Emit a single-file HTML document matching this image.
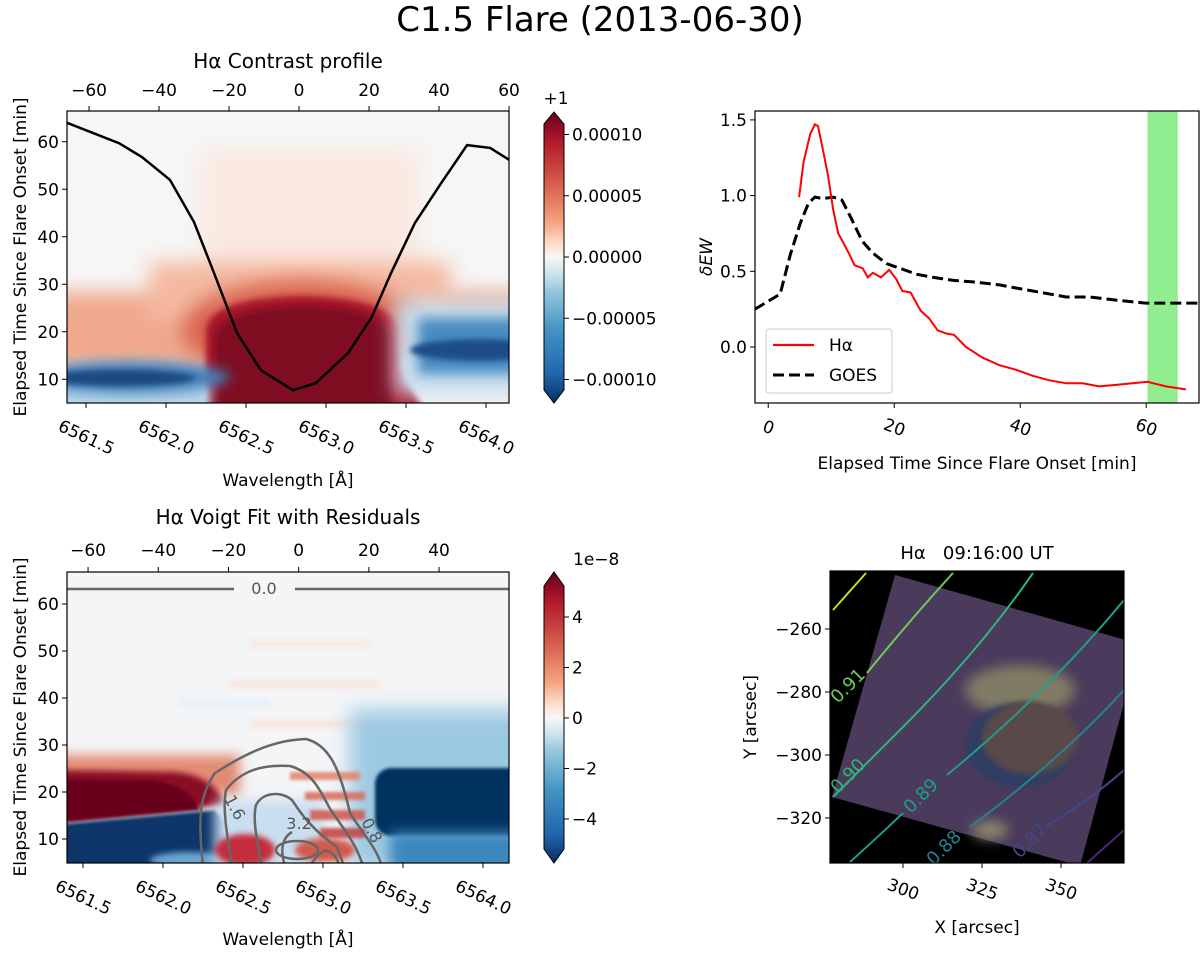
<!DOCTYPE html>
<html><head><meta charset="utf-8"><style>
body{margin:0;background:#fff;}
svg{display:block;font-family:"DejaVu Sans","Liberation Sans",sans-serif;}
</style></head><body>
<svg id="fig" width="1200" height="953" viewBox="0 0 1200 953">
<defs>
<filter id="b3" filterUnits="userSpaceOnUse" x="0" y="0" width="1200" height="953"><feGaussianBlur stdDeviation="3"/></filter>
<filter id="b6" filterUnits="userSpaceOnUse" x="0" y="0" width="1200" height="953"><feGaussianBlur stdDeviation="6"/></filter>
<filter id="b10" filterUnits="userSpaceOnUse" x="0" y="0" width="1200" height="953"><feGaussianBlur stdDeviation="10"/></filter>
<filter id="b2" filterUnits="userSpaceOnUse" x="0" y="0" width="1200" height="953"><feGaussianBlur stdDeviation="1.5"/></filter>
<clipPath id="c1"><rect x="67" y="111" width="442" height="292"/></clipPath>
<clipPath id="c2"><rect x="67" y="572" width="442" height="291"/></clipPath>
<clipPath id="c3"><rect x="755" y="111" width="444" height="292"/></clipPath>
<clipPath id="c4"><rect x="830" y="571" width="294" height="292"/></clipPath>
<linearGradient id="rdbu" x1="0" y1="0" x2="0" y2="1">
<stop offset="0" stop-color="#67001f"/><stop offset="0.1" stop-color="#b2182b"/><stop offset="0.25" stop-color="#d6604d"/><stop offset="0.38" stop-color="#f4a582"/><stop offset="0.45" stop-color="#fddbc7"/><stop offset="0.5" stop-color="#f7f7f7"/><stop offset="0.55" stop-color="#d1e5f0"/><stop offset="0.62" stop-color="#92c5de"/><stop offset="0.75" stop-color="#4393c3"/><stop offset="0.9" stop-color="#2166ac"/><stop offset="1" stop-color="#053061"/>
</linearGradient>
</defs>

<text x="600" y="31" font-size="34" text-anchor="middle">C1.5 Flare (2013-06-30)</text>

<!-- ============ TOP LEFT HEATMAP ============ -->
<g clip-path="url(#c1)">
<rect x="67" y="111" width="442" height="292" fill="#f6f6f6"/>
<rect x="200" y="150" width="220" height="140" fill="#fbe6dc" filter="url(#b10)" opacity="0.8"/>
<rect x="40" y="292" width="500" height="76" fill="#f0a88e" filter="url(#b10)"/>
<rect x="150" y="262" width="300" height="60" fill="#f4b9a0" filter="url(#b10)"/>
<ellipse cx="302" cy="330" rx="120" ry="50" fill="#d8644f" filter="url(#b10)"/>
<path d="M206,410 L206,330 Q210,298 302,296 Q394,298 398,330 L400,365 Q410,390 425,410 Z" fill="#a8172b" filter="url(#b3)"/>
<path d="M215,410 L215,335 Q225,308 302,306 Q385,308 390,335 L392,410 Z" fill="#7e0823" filter="url(#b3)"/>
<rect x="40" y="380" width="170" height="30" fill="#b3d3e8" filter="url(#b6)"/>
<ellipse cx="130" cy="377" rx="100" ry="16" fill="#3f7fb9" filter="url(#b6)"/>
<ellipse cx="120" cy="378" rx="75" ry="8" fill="#1d4a80" filter="url(#b3)"/>
<rect x="395" y="300" width="140" height="95" fill="#c7deee" filter="url(#b10)"/>
<rect x="418" y="318" width="110" height="56" fill="#4a8cc2" filter="url(#b6)"/>
<ellipse cx="480" cy="350" rx="70" ry="11" fill="#1e4d87" filter="url(#b3)"/>
<path id="profile" fill="none" stroke="#000" stroke-width="2.5"/>
</g>
<rect x="67" y="111" width="442" height="292" fill="none" stroke="#000" stroke-width="1.2"/>
<text x="288" y="68" font-size="20" text-anchor="middle">Hα Contrast profile</text>
<g id="tl-axes" font-size="17"></g>
<text transform="translate(26,257) rotate(-90)" font-size="17" text-anchor="middle">Elapsed Time Since Flare Onset [min]</text>
<text x="288" y="486" font-size="17" text-anchor="middle">Wavelength [Å]</text>
<g>
<path d="M544,124 L554,112 L564,124 L564,390 L554,403 L544,390 Z" fill="url(#rdbu)" stroke="#000" stroke-width="1"/>
<text x="556" y="104" font-size="17" text-anchor="middle">+1</text>
<g id="cb1" font-size="17"></g>
</g>

<!-- ============ BOTTOM LEFT HEATMAP ============ -->
<g clip-path="url(#c2)">
<rect x="67" y="572" width="442" height="291" fill="#f3f5f7"/>
<g opacity="0.6" filter="url(#b3)">
<rect x="250" y="640" width="120" height="8" fill="#fbe0d3"/>
<rect x="230" y="680" width="150" height="8" fill="#fbdccd"/>
<rect x="250" y="720" width="120" height="8" fill="#fbd9c9"/>
<rect x="180" y="700" width="90" height="6" fill="#dbe9f3"/>
</g>
<rect x="350" y="710" width="190" height="160" fill="#9cc9e2" filter="url(#b10)"/>
<rect x="40" y="755" width="200" height="40" fill="#e48a72" filter="url(#b6)"/>
<path d="M40,770 L175,772 Q215,776 225,805 L40,825 Z" fill="#8a0a25" filter="url(#b3)"/>
<path d="M40,780 L150,780 Q190,785 200,810 L40,824 Z" fill="#67001f" filter="url(#b2)"/>
<path d="M40,826 L215,810 Q235,830 220,850 L200,880 L40,880 Z" fill="#08356a" filter="url(#b2)"/>
<ellipse cx="190" cy="860" rx="40" ry="8" fill="#6aa4cf" filter="url(#b3)"/>
<rect x="215" y="800" width="110" height="70" fill="#c9def0" filter="url(#b6)"/>
<ellipse cx="245" cy="850" rx="30" ry="16" fill="#c42d3c" filter="url(#b3)"/>
<ellipse cx="325" cy="850" rx="30" ry="12" fill="#d45a4c" filter="url(#b3)"/>
<g filter="url(#b2)" opacity="0.85">
<rect x="290" y="772" width="70" height="8" fill="#e3826b"/>
<rect x="305" y="792" width="60" height="8" fill="#d86a57"/>
<rect x="310" y="810" width="55" height="10" fill="#d0554b"/>
<rect x="320" y="828" width="45" height="10" fill="#c53c3f"/>
</g>
<rect x="375" y="768" width="160" height="68" rx="16" fill="#053061" filter="url(#b2)"/>
<rect x="390" y="832" width="140" height="40" fill="#3e87bf" filter="url(#b6)"/>
<g fill="none" stroke="#666" stroke-width="2.5">
<path d="M67,589 L234,589 M295,589 L509,589"/>
<path d="M203,866 C198,820 199,795 215,773 C240,757 270,740 306,739 C330,745 340,770 350,813 C360,830 375,845 382,866"/>
<path d="M232,866 C228,840 222,810 226,790 C240,772 260,764 290,766 C312,772 320,790 329,807 C340,825 355,840 363,866"/>
<path d="M262,866 C258,845 252,820 256,805 C262,793 280,790 292,800 C300,812 310,828 337,847 L344,866"/>
<path d="M285,866 C280,850 282,838 292,832 M310,866 C320,850 330,842 340,866"/>
<ellipse cx="297" cy="850" rx="21" ry="9"/>
</g>
<g font-size="16" fill="#555">
<text x="264" y="594" text-anchor="middle">0.0</text>
<text transform="translate(230,810) rotate(62)" text-anchor="middle">1.6</text>
<text x="299" y="829" text-anchor="middle">3.2</text>
<text transform="translate(367,833) rotate(62)" text-anchor="middle">0.8</text>
</g>
</g>
<rect x="67" y="572" width="442" height="291" fill="none" stroke="#000" stroke-width="1.2"/>
<text x="288" y="524" font-size="20" text-anchor="middle">Hα Voigt Fit with Residuals</text>
<g id="bl-axes" font-size="17"></g>
<text transform="translate(26,717) rotate(-90)" font-size="17" text-anchor="middle">Elapsed Time Since Flare Onset [min]</text>
<text x="288" y="945" font-size="17" text-anchor="middle">Wavelength [Å]</text>
<g>
<path d="M544,586 L554,572 L564,586 L564,849 L554,863 L544,849 Z" fill="url(#rdbu)" stroke="#000" stroke-width="1"/>
<text x="573" y="565" font-size="17">1e−8</text>
<g id="cb2" font-size="17"></g>
</g>

<!-- ============ TOP RIGHT LINE CHART ============ -->
<g id="tr" clip-path="url(#c3)"></g>
<rect x="755" y="111" width="444" height="292" fill="none" stroke="#000" stroke-width="1.2"/>
<g id="tr-axes" font-size="17"></g>
<text transform="translate(712,257) rotate(-90)" font-size="17" font-style="italic" text-anchor="middle">δEW</text>
<text x="977" y="469" font-size="17" text-anchor="middle">Elapsed Time Since Flare Onset [min]</text>
<g>
<rect x="766" y="329" width="126" height="64" rx="3" fill="#fff" fill-opacity="0.8" stroke="#ccc"/>
<line x1="773" y1="345" x2="814" y2="345" stroke="#f00" stroke-width="2.2"/>
<text x="829" y="351" font-size="17">Hα</text>
<line x1="773" y1="375" x2="814" y2="375" stroke="#000" stroke-width="3" stroke-dasharray="11,5"/>
<text x="829" y="381" font-size="17">GOES</text>
</g>

<!-- ============ BOTTOM RIGHT MAP ============ -->
<g clip-path="url(#c4)">
<rect x="830" y="571" width="294" height="292" fill="#000"/>
<path d="M895,575 L1140,644 L1080,866 L832,797 Z" fill="#4a3a5c"/>
<ellipse cx="1020" cy="690" rx="55" ry="25" fill="#8e8c66" filter="url(#b6)" opacity="0.8"/>
<ellipse cx="1020" cy="745" rx="55" ry="42" fill="#2f3e62" filter="url(#b3)"/>
<ellipse cx="1030" cy="738" rx="48" ry="36" fill="#5a4848" filter="url(#b3)"/>
<ellipse cx="990" cy="830" rx="18" ry="9" fill="#8d8a6a" filter="url(#b6)"/>
<g fill="none" stroke-width="2">
<path d="M833,610 L866,573" stroke="#c2df23"/>
<path d="M867,673 Q910,620 953,573" stroke="#6ccd5a"/>
<path d="M833,797 Q870,760 900,730 Q980,650 1033,573" stroke="#2fb47c"/>
<path d="M850,862 Q880,835 903,813 M947,775 Q1050,690 1124,600" stroke="#1f9e89"/>
<path d="M970,827 Q1060,760 1124,690" stroke="#26828e"/>
<path d="M1045,827 Q1090,800 1124,770" stroke="#3e4989"/>
<path d="M1087,863 L1124,830" stroke="#482878"/>
</g>
<g font-size="18">
<text transform="translate(852,690) rotate(-45)" fill="#6ccd5a" text-anchor="middle">0.91</text>
<text transform="translate(852,780) rotate(-45)" fill="#2fb47c" text-anchor="middle">0.90</text>
<text transform="translate(925,800) rotate(-45)" fill="#1f9e89" text-anchor="middle">0.89</text>
<text transform="translate(948,852) rotate(-45)" fill="#26828e" text-anchor="middle">0.88</text>
<text transform="translate(1034,845) rotate(-45)" fill="#3e4989" text-anchor="middle">0.87</text>
</g>
</g>
<rect x="830" y="571" width="294" height="292" fill="none" stroke="#000" stroke-width="1.2"/>
<text x="977" y="559" font-size="18" text-anchor="middle" xml:space="preserve">Hα   09:16:00 UT</text>
<g id="br-axes" font-size="17"></g>
<text transform="translate(756,717) rotate(-90)" font-size="17" text-anchor="middle">Y [arcsec]</text>
<text x="977" y="933" font-size="17" text-anchor="middle">X [arcsec]</text>
</svg>
<script>
// ---- data ----
const profileOffset = [-66.3,-51.4,-44.9,-36.9,-30.0,-24.3,-17.7,-10.9,-1.7,4.8,14.0,20.8,26.3,33.1,40.6,48.0,54.6,60.0];
const profileValue = [64.0,59.7,56.8,52.0,43.1,32.4,19.7,11.9,7.7,9.2,15.5,23.1,32.4,42.9,51.3,59.3,58.7,56.2];
const haTime = [4.9,5.6,6.7,7.4,7.9,8.7,9.5,10.3,11.1,11.9,12.9,13.7,15.0,15.8,16.6,17.9,19.2,20.3,21.3,22.6,24.2,25.5,26.9,28.2,29.5,31.4,34.0,36.7,39.3,42.0,44.6,47.3,49.9,52.5,55.2,57.8,60.2,63.1,66.3];
const haValue = [0.99,1.22,1.41,1.47,1.46,1.30,1.13,0.91,0.75,0.69,0.61,0.54,0.52,0.46,0.49,0.46,0.51,0.45,0.37,0.36,0.24,0.19,0.11,0.09,0.08,0.00,-0.07,-0.12,-0.15,-0.19,-0.22,-0.24,-0.24,-0.26,-0.25,-0.24,-0.23,-0.26,-0.28];
const goesTime = [-2.1,-0.5,1.9,3.5,5.1,6.4,7.4,8.7,10.3,11.7,13.3,14.9,16.6,18.8,20.9,23.6,26.2,29.4,32.5,36.7,39.3,42.0,47.3,51.0,55.2,59.9,64.1,68.2];
const goesValue = [0.25,0.29,0.35,0.61,0.82,0.95,0.99,0.98,0.99,0.97,0.84,0.70,0.62,0.55,0.52,0.48,0.46,0.44,0.43,0.41,0.39,0.37,0.33,0.33,0.31,0.29,0.29,0.29];
const spanRange = [60.2, 65.0];
const wlTicks = ["6561.5","6562.0","6562.5","6563.0","6563.5","6564.0"];
const offTicksTop = [-60,-40,-20,0,20,40,60];
const offTicksBottom = [-60,-40,-20,0,20,40];
const timeTicks = [10,20,30,40,50,60];
const cb1Ticks = ["0.00010","0.00005","0.00000","−0.00005","−0.00010"];
const cb1Vals = [0.0001,0.00005,0,-0.00005,-0.0001];
const cb2Vals = [4,2,0,-2,-4];
const dewXTicks = [0,20,40,60];
const dewYTicks = [0.0,0.5,1.0,1.5];
const mapXTicks = [300,325,350];
const mapYTicks = [-260,-280,-300,-320];

// ---- axis functions ----
const tlU = u => 67 + (u + 66.3) * 3.5;
const tlT = t => 403 - (t - 5) * 4.75;
const tlW = w => 86 + (w - 6561.5) * 160;
const blU = u => 67 + (u + 66.0) * 3.51;
const blT = t => 839 - (t - 10) * 4.7;
const blW = w => 83 + (w - 6561.5) * 160;
const cb1 = v => 257 - v * 1225000;
const cb2 = v => 718 - v * 25.25;
const dx = t => 755 + (t + 2.1) * 6.3;
const dy = v => 347 - v * 151.4;
const mx = x => 903 + (x - 300) * 3.16;
const my = y => 629 - (y + 260) * 3.15;

const NS = 'http://www.w3.org/2000/svg';
function mk(tag, parent, attrs) {
  const e = document.createElementNS(NS, tag);
  for (const k in attrs) e.setAttribute(k, attrs[k]);
  parent.appendChild(e); return e;
}
function tickX(g, x, y0, dir, label, ly, rot, name) {
  const l = mk('line', g, {x1:x, x2:x, y1:y0, y2:y0 + dir*5, stroke:'#000', 'stroke-width':1});
  
  
  const t = mk('text', g, {'text-anchor':'middle'});
  
  
  if (rot) { t.setAttribute('transform', 'translate(' + x + ',' + ly + ') rotate(' + rot + ')'); t.setAttribute('dominant-baseline','central'); }
  else { t.setAttribute('x', x); t.setAttribute('y', ly); }
  t.textContent = label;
}
function tickY(g, x0, y, label, lx, name, anchor) {
  const dir = anchor === 'start' ? 1 : -1;
  const l = mk('line', g, {x1:x0, x2:x0 + dir*5, y1:y, y2:y, stroke:'#000', 'stroke-width':1});
  
  
  const t = mk('text', g, {x:lx, y:y + 6, 'text-anchor':anchor || 'end'});
  
  
  t.textContent = label;
}
const fmt = v => (v < 0 ? '−' : '') + Math.abs(v);

document.getElementById('profile').setAttribute('d', profileOffset.map((u,i)=>(i?'L':'M')+tlU(u).toFixed(1)+','+tlT(profileValue[i]).toFixed(1)).join(' '));

const g1 = document.getElementById('tl-axes');
offTicksTop.forEach(u => tickX(g1, tlU(u), 111, -1, fmt(u), 96, 0, 'offset-top'));
wlTicks.forEach(w => tickX(g1, tlW(+w), 403, 1, w, 438, 25, 'wavelength'));
timeTicks.forEach(t => tickY(g1, 67, tlT(t), t, 59, 'time'));
const gc1 = document.getElementById('cb1');
cb1Vals.forEach((v,i) => tickY(gc1, 564, cb1(v), cb1Ticks[i], 572, 'colorbar1', 'start'));

const g2 = document.getElementById('bl-axes');
offTicksBottom.forEach(u => tickX(g2, blU(u), 572, -1, fmt(u), 556, 0, 'offset-top-residual'));
wlTicks.forEach(w => tickX(g2, blW(+w), 863, 1, w, 898, 25, 'wavelength-residual'));
timeTicks.forEach(t => tickY(g2, 67, blT(t), t, 59, 'time-residual'));
const gc2 = document.getElementById('cb2');
cb2Vals.forEach(v => tickY(gc2, 564, cb2(v), fmt(v), 572, 'colorbar2', 'start'));

const gtr = document.getElementById('tr');
const span = mk('rect', gtr, {x:dx(spanRange[0]), y:111, width:dx(spanRange[1])-dx(spanRange[0]), height:292, fill:'#90ee90'});


const goes = mk('path', gtr, {d: goesTime.map((t,i)=>(i?'L':'M')+dx(t).toFixed(1)+','+dy(goesValue[i]).toFixed(1)).join(' '), fill:'none', stroke:'#000', 'stroke-width':3, 'stroke-dasharray':'11,5'});


const ha = mk('path', gtr, {d: haTime.map((t,i)=>(i?'L':'M')+dx(t).toFixed(1)+','+dy(haValue[i]).toFixed(1)).join(' '), fill:'none', stroke:'#f00', 'stroke-width':2});


const g3 = document.getElementById('tr-axes');
dewXTicks.forEach(t => tickX(g3, dx(t), 403, 1, t, 428, 20, 'dew-time'));
dewYTicks.forEach(v => tickY(g3, 755, dy(v), v.toFixed(1), 747, 'dew'));

const g4 = document.getElementById('br-axes');
mapXTicks.forEach(x => tickX(g4, mx(x), 863, 1, x, 890, 20, 'map-x'));
mapYTicks.forEach(y => tickY(g4, 830, my(y), fmt(y), 822, 'map-y'));
</script>
</body></html>
